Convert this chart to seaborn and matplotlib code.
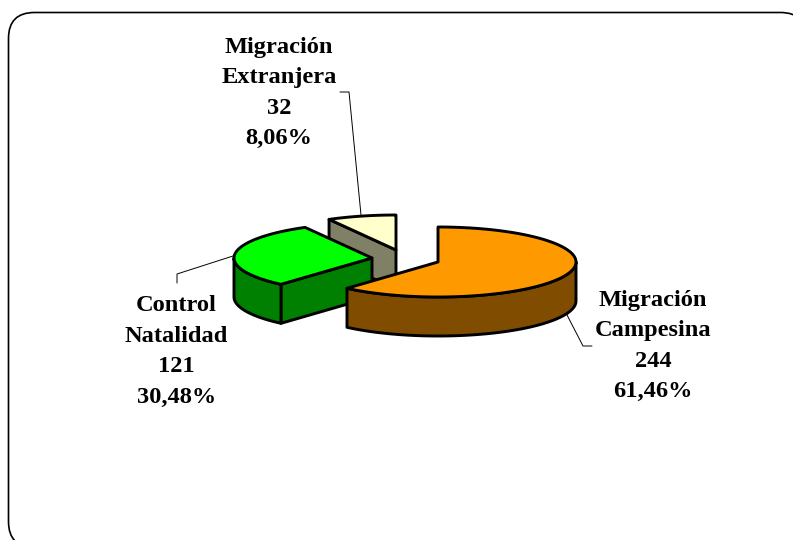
import numpy as np
import matplotlib
matplotlib.use("Agg")
import matplotlib.pyplot as plt
from matplotlib.patches import FancyBboxPatch
import seaborn as sns

# ---- data ----
categories = ["Migración\nCampesina", "Control\nNatalidad", "Migración\nExtranjera"]
values = [244, 121, 32]

# ---- styles ----
top_colors = ["#FF9900", "#00FF00", "#FFFFCC"]
side_colors = ["#804D00", "#008000", "#808066"]
apex_px = [(438, 262), (372, 258), (396, 250)]
label_px = [(653, 346), (176.5, 351.5), (279, 93)]
leaders_px = [
    [(567, 315), (583, 346), (592, 346)],
    [(233, 256), (177, 274), (177, 283)],
    [(361, 215), (349, 92), (340, 92)],
]
# which slices show their leading cut face (the one at the start angle)
shows_cut_face = [False, True, True]
RX, RY, DEPTH = 138, 35, 39

sns.set_theme(style="white")
plt.rcParams["font.family"] = ["Liberation Serif", "DejaVu Serif"]

fig = plt.figure(figsize=(7.93, 5.40), dpi=100)
ax = fig.add_axes([0, 0, 1, 1])
ax.set_xlim(0, 793)
ax.set_ylim(540, 0)
ax.axis("off")

ax.add_patch(FancyBboxPatch((8.5, 12.5), 798, 535,
                            boxstyle="round,pad=0,rounding_size=26",
                            fc="white", ec="black", lw=1.2))

total = sum(values)
edges = 90 - np.concatenate([[0], np.cumsum(values)]) / total * 360


def pt(c, deg, dz=0):
    a = np.radians(deg)
    return c[0] + RX * np.cos(a), c[1] - RY * np.sin(a) + dz


def draw(i):
    c = apex_px[i]
    a0, a1 = edges[i], edges[i + 1]          # clockwise: a1 < a0
    arc = np.linspace(a0, a1, 200)
    kw = dict(ec="black", lw=2.1, joinstyle="round")
    if shows_cut_face[i]:
        p = pt(c, a0)
        ax.fill([c[0], p[0], p[0], c[0]],
                [c[1], p[1], p[1] + DEPTH, c[1] + DEPTH],
                fc=side_colors[i], **kw)
    front = arc[np.sin(np.radians(arc)) <= 0]
    if front.size:
        xs, ys = pt(c, front)
        xb, yb = pt(c, front[::-1], DEPTH)
        ax.fill(np.r_[xs, xb], np.r_[ys, yb], fc=side_colors[i], **kw)
    xs, ys = pt(c, arc)
    ax.fill(np.r_[c[0], xs], np.r_[c[1], ys], fc=top_colors[i], **kw)


for i in (2, 1, 0):
    draw(i)

for path in leaders_px:
    ax.plot(*zip(*path), color="black", lw=0.7)

for name, v, (x, y) in zip(categories, values, label_px):
    pct = f"{v / total * 100:.2f}".replace(".", ",") + "%"
    ax.text(x, y, f"{name}\n{v}\n{pct}", ha="center", va="center",
            fontsize=17.6, fontweight="bold", linespacing=1.6,
            color="black", multialignment="center")

fig.savefig("out.png", dpi=100)
